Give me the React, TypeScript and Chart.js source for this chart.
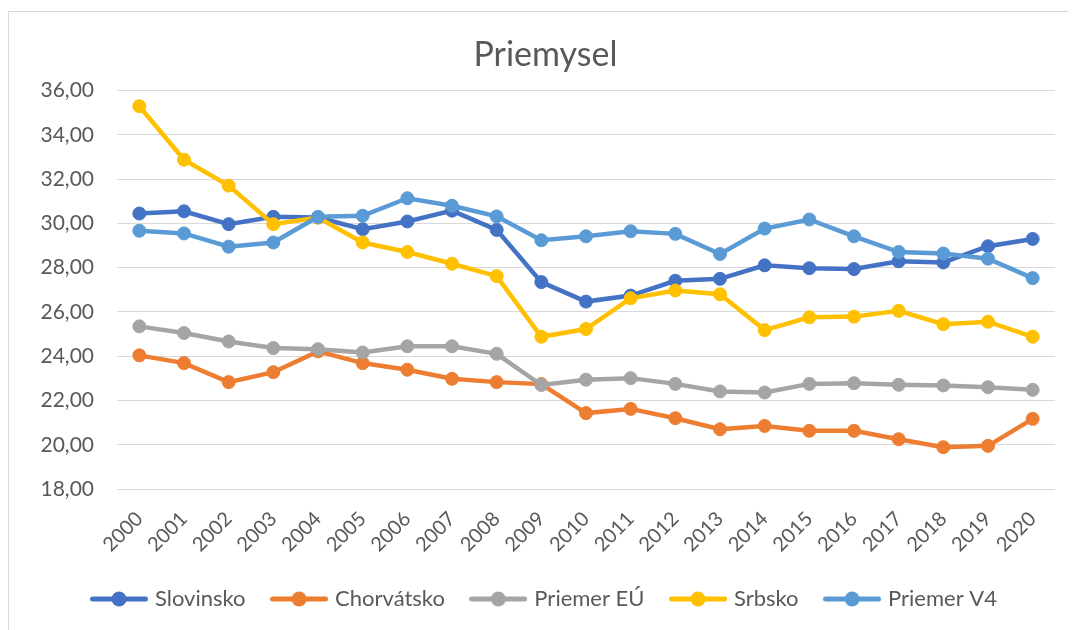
import React, { useEffect, useRef } from "react";
import { Chart, registerables } from "chart.js";

Chart.register(...registerables);

const years = ["2000","2001","2002","2003","2004","2005","2006","2007","2008","2009","2010","2011","2012","2013","2014","2015","2016","2017","2018","2019","2020"];

const slovinsko = [30.45, 30.55, 29.97, 30.30, 30.27, 29.74, 30.09, 30.58, 29.71, 27.35, 26.47, 26.74, 27.41, 27.50, 28.11, 27.98, 27.94, 28.29, 28.24, 28.97, 29.30];
const chorvatsko = [24.04, 23.69, 22.83, 23.28, 24.22, 23.69, 23.39, 22.98, 22.83, 22.74, 21.43, 21.62, 21.20, 20.70, 20.85, 20.63, 20.63, 20.25, 19.89, 19.95, 21.17];
const priemerEU = [25.35, 25.05, 24.67, 24.37, 24.32, 24.17, 24.45, 24.45, 24.11, 22.70, 22.94, 23.01, 22.75, 22.41, 22.36, 22.75, 22.78, 22.71, 22.68, 22.60, 22.48];
const srbsko = [35.30, 32.88, 31.71, 29.97, 30.27, 29.14, 28.71, 28.18, 27.62, 24.88, 25.23, 26.62, 26.97, 26.80, 25.18, 25.76, 25.79, 26.05, 25.45, 25.56, 24.88];
const priemerV4 = [29.67, 29.55, 28.95, 29.14, 30.30, 30.35, 31.14, 30.80, 30.32, 29.24, 29.42, 29.65, 29.53, 28.62, 29.77, 30.18, 29.42, 28.71, 28.64, 28.41, 27.53];

const seriesNames = ["Slovinsko", "Chorvátsko", "Priemer EÚ", "Srbsko", "Priemer V4"];
const seriesColors = ["#4472C4", "#ED7D31", "#A5A5A5", "#FFC000", "#5B9BD5"];
const seriesData = [slovinsko, chorvatsko, priemerEU, srbsko, priemerV4];

const FONT = "Lato, 'Open Sans', sans-serif";
const TEXT = "#595959";

function makeMarker(color: string): HTMLCanvasElement {
  const c = document.createElement("canvas");
  c.width = 58;
  c.height = 18;
  const ctx = c.getContext("2d")!;
  ctx.strokeStyle = color;
  ctx.lineWidth = 5;
  ctx.lineCap = "round";
  ctx.beginPath();
  ctx.moveTo(2.5, 9);
  ctx.lineTo(55.5, 9);
  ctx.stroke();
  ctx.fillStyle = color;
  ctx.beginPath();
  ctx.arc(29, 9, 7.5, 0, Math.PI * 2);
  ctx.fill();
  return c;
}

export default function App() {
  const ref = useRef<HTMLCanvasElement | null>(null);

  useEffect(() => {
    if (!ref.current) return;
    const markers = seriesColors.map(makeMarker);
    const chart = new Chart(ref.current, {
      type: "line",
      data: {
        labels: years,
        datasets: seriesNames.map((name, i) => ({
          label: name,
          data: seriesData[i],
          borderColor: seriesColors[i],
          backgroundColor: seriesColors[i],
          pointBackgroundColor: seriesColors[i],
          pointBorderColor: seriesColors[i],
          borderWidth: 4.5,
          pointRadius: 6.5,
          pointBorderWidth: 1,
          tension: 0,
          order: seriesNames.length - i,
        })),
      },
      options: {
        animation: false,
        responsive: false,
        maintainAspectRatio: false,
        layout: { padding: { left: 28, right: 21, top: 0, bottom: 10 } },
        plugins: {
          tooltip: { enabled: false },
          title: {
            display: true,
            text: "Priemysel",
            color: TEXT,
            font: { family: FONT, size: 34, weight: "normal" },
            padding: { top: 26.3, bottom: 15.6 },
          },
          legend: {
            position: "bottom",
            labels: {
              usePointStyle: true,
              pointStyleWidth: 50,
              padding: 28.5,
              color: TEXT,
              font: { family: FONT, size: 22 },
              sort: (a: any, b: any) => a.datasetIndex - b.datasetIndex,
              generateLabels: (ch: any) => {
                const items = Chart.defaults.plugins.legend.labels.generateLabels(ch);
                return items.map((it: any) => ({ ...it, pointStyle: markers[it.datasetIndex] }));
              },
            },
          },
        },
        scales: {
          x: {
            offset: true,
            grid: { display: false, drawTicks: false },
            border: { display: false },
            ticks: {
              color: TEXT,
              font: { family: FONT, size: 20 },
              minRotation: 45,
              maxRotation: 45,
              autoSkip: false,
              padding: 18,
            },
            afterFit: (scale: any) => {
              scale.height = 70.5;
            },
          },
          y: {
            min: 18,
            max: 36,
            grid: { color: "#D9D9D9", lineWidth: 1, drawTicks: false },
            border: { display: false },
            ticks: {
              stepSize: 2,
              color: TEXT,
              font: { family: FONT, size: 21 },
              padding: 23,
              callback: (v: any) => Number(v).toFixed(2).replace(".", ","),
            },
            afterFit: (scale: any) => {
              scale.width = 81;
            },
          },
        },
      },
    });
    return () => chart.destroy();
  }, []);

  return (
    <div style={{ position: "relative", width: 1068, height: 622 }}>
      <div
        style={{
          position: "absolute",
          left: 0,
          top: 3,
          right: 0,
          bottom: 0,
          borderLeft: "1px solid #D9D9D9",
          borderTop: "1px solid #D9D9D9",
        }}
      />
      <canvas
        ref={ref}
        width={1068}
        height={622}
        style={{ position: "absolute", left: 0, top: 0, width: 1068, height: 622 }}
      />
    </div>
  );
}
